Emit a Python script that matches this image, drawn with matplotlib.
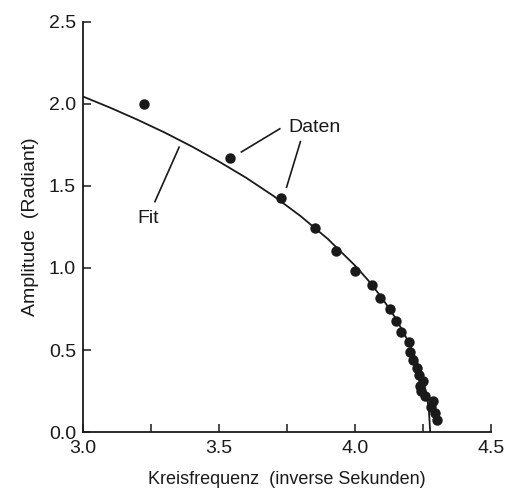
import numpy as np
import matplotlib.pyplot as plt
from matplotlib.ticker import MultipleLocator

plt.rcParams['font.family'] = ['Liberation Sans', 'DejaVu Sans']

# Messdaten: Kreisfrequenz (1/s) und Amplitude (rad)
freq = [3.224, 3.540, 3.730, 3.855, 3.932, 4.000, 4.064, 4.092, 4.129, 4.151,
        4.170, 4.200, 4.202, 4.214, 4.229, 4.237, 4.251, 4.241, 4.245, 4.257,
        4.288, 4.279, 4.294, 4.303]
ampl = [1.998, 1.673, 1.429, 1.246, 1.106, 0.983, 0.894, 0.815, 0.748, 0.679,
        0.608, 0.547, 0.490, 0.439, 0.392, 0.346, 0.313, 0.282, 0.252, 0.221,
        0.191, 0.154, 0.114, 0.073]

# Fitkurve
fit_freq = [3.0, 3.1, 3.2, 3.3, 3.4, 3.5, 3.6, 3.7, 3.8, 3.9, 4.0, 4.05,
            4.1, 4.15, 4.2, 4.23, 4.25, 4.265, 4.272, 4.277]
fit_ampl = [2.045, 1.977, 1.904, 1.826, 1.741, 1.649, 1.550, 1.440, 1.317,
            1.178, 1.016, 0.923, 0.817, 0.694, 0.542, 0.424, 0.322, 0.215,
            0.139, 0.0]

fs = 14
ink = '#1a1a1a'

fig = plt.figure(figsize=(5.05, 4.95), dpi=100)
ax = fig.add_axes([0.164, 0.127, 0.808, 0.829])

ax.plot(fit_freq, fit_ampl, color=ink, lw=1.3)
ax.plot(freq, ampl, 'o', color=ink, ms=7.5, mec='none')

# Beschriftungen mit Hinweislinien
ax.plot([3.583, 3.724], [1.707, 1.848], color=ink, lw=1.2)
ax.plot([3.800, 3.749], [1.770, 1.492], color=ink, lw=1.2)
ax.text(3.754, 1.831, 'Daten', fontsize=fs, va='baseline', ha='left', color=ink)
ax.plot([3.354, 3.265], [1.736, 1.404], color=ink, lw=1.2)
ax.text(3.200, 1.273, 'Fit', fontsize=fs, va='baseline', ha='left', color=ink)

ax.set_xlim(3.0, 4.5)
ax.set_ylim(0.0, 2.5)
ax.xaxis.set_minor_locator(MultipleLocator(0.25))
ax.set_xticks([3.0, 3.5, 4.0, 4.5])
ax.set_xticklabels(['3.0', '3.5', '4.0', '4.5'])
ax.set_yticks([0.0, 0.5, 1.0, 1.5, 2.0, 2.5])
ax.set_yticklabels(['0.0', '0.5', '1.0', '1.5', '2.0', '2.5'])

for s in ['top', 'right']:
    ax.spines[s].set_visible(False)
for s in ['left', 'bottom']:
    ax.spines[s].set_linewidth(1.3)
    ax.spines[s].set_color(ink)

ax.tick_params(which='both', direction='in', length=6, width=1.1,
               labelsize=fs, colors=ink)
ax.tick_params(axis='y', pad=5)
ax.tick_params(axis='x', pad=6)

ax.set_xlabel('Kreisfrequenz  (inverse Sekunden)', fontsize=13, labelpad=10,
              color=ink)
ax.set_ylabel('Amplitude  (Radiant)', fontsize=fs, labelpad=7, color=ink)

fig.savefig('out.png', dpi=100)
